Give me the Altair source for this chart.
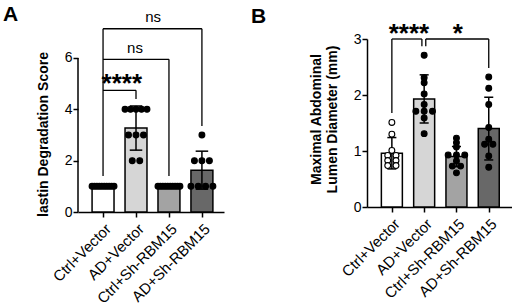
import altair as alt
import pandas as pd
from collections import Counter, defaultdict

groups = ["Ctrl+Vector", "AD+Vector", "Ctrl+Sh-RBM15", "AD+Sh-RBM15"]
bar_fills = ["#ffffff", "#d6d6d6", "#a3a3a3", "#686868"]

# Panel A: Elastin degradation score
a_ctrl_vec = [1, 1, 1, 1, 1, 1, 1, 1, 1, 1]
a_ad_vec = [4, 4, 4, 4, 4, 3, 3, 3, 2, 2]
a_ctrl_sh = [1, 1, 1, 1, 1, 1, 1, 1, 1, 1]
a_ad_sh = [3, 2, 2, 2, 1, 1, 1, 1]
a_mean = [1.0, 3.27, 1.0, 1.63]
a_sd = [0.0, 0.86, 0.0, 0.74]

# Panel B: maximal abdominal lumen diameter (mm)
b_ctrl_vec = [1.51, 1.30, 1.01, 0.92, 0.92, 0.83, 0.83, 0.74, 0.74]
b_ad_vec = [2.71, 2.31, 2.22, 2.02, 1.83, 1.71, 1.71, 1.71, 1.59, 1.31]
b_ctrl_sh = [1.23, 1.15, 1.07, 0.93, 0.93, 0.93, 0.82, 0.73, 0.73, 0.61]
b_ad_sh = [2.32, 2.12, 1.83, 1.42, 1.21, 1.12, 1.12, 0.91, 0.71]
b_mean = [0.96, 1.93, 0.90, 1.40]
b_sd = [0.28, 0.43, 0.18, 0.56]

# significance brackets: (x, x2, y, y2) in data units
a_brackets = [
    (0, 3, 7.14, 7.14), (3, 3, 7.14, 3.35),
    (0, 2, 5.95, 5.95), (2, 2, 5.95, 1.40),
    (0, 1, 4.74, 4.74), (1, 1, 4.74, 4.40),
    (0, 0, 7.14, 1.40),
]
a_ns = [("ns", 1.52, 7.42), ("ns", 0.97, 6.21)]
a_stars = [("****", 0.57, 4.66)]
b_brackets = [
    (0, 0, 3.0, 1.68), (0, 0.93, 3.0, 3.0), (0.93, 0.93, 3.0, 2.87),
    (1.05, 1.05, 3.0, 2.87), (1.05, 3, 3.0, 3.0), (3, 3, 3.0, 2.48),
]
b_ns = []
b_stars = [("****", 0.53, 2.955), ("*", 2.04, 2.955)]

FONT = "Liberation Sans"
XLAB = 15
YLAB = 14
TITLE = 14


def swarm(vals, gap, span, step):
    counts = Counter(vals)
    seen = defaultdict(int)
    out = []
    for v in vals:
        n = counts[v]
        k = seen[v]
        seen[v] += 1
        sp = min(gap, span / (n - 1)) if n > 1 else 0.0
        out.append((k - (n - 1) / 2) * sp / step)
    return out


def panel(point_lists, means, sds, open_idx, ydom, yticks, width, height,
          xdom, bar_hw, cap_hw, step, gap, span, brackets, ns, stars, letter,
          letter_xy, ytitle, title_xy, own_axis_top=None):
    bars = pd.DataFrame({
        "g": groups, "x0": [i - bar_hw for i in range(4)],
        "x1": [i + bar_hw for i in range(4)], "mean": means,
        "fill": bar_fills, "i": list(range(4)),
        "lo": [m - s for m, s in zip(means, sds)],
        "hi": [m + s for m, s in zip(means, sds)],
        "c0": [i - cap_hw for i in range(4)], "c1": [i + cap_hw for i in range(4)],
    })
    err = bars[[s > 0 for s in sds]]
    rows = []
    for i, vals in enumerate(point_lists):
        offs = swarm(vals, gap, span, step)
        for v, o in zip(vals, offs):
            rows.append({"px": i + o, "v": v,
                         "pf": "white" if i in open_idx else "black"})
    pts = pd.DataFrame(rows)
    br = pd.DataFrame(brackets, columns=["x", "x2", "y", "y2"])

    lab = "[" + ",".join("'" + g + "'" for g in groups) + "][datum.value]"
    xsc = alt.Scale(domain=xdom, nice=False, zero=False)
    ysc = alt.Scale(domain=ydom, nice=False, zero=True)
    xax = alt.Axis(values=[0, 1, 2, 3], labelExpr=lab, labelAngle=-45,
                   labelAlign="right", labelBaseline="top", labelFontSize=XLAB,
                   labelFont=FONT, labelColor="black", tickSize=5,
                   tickWidth=1.5, tickColor="black", domainColor="black",
                   domainWidth=1.5, grid=False, title=None, labelPadding=4,
                   labelOverlap=False)
    yax = alt.Axis(values=yticks, format="d", labelFontSize=YLAB, labelFont=FONT,
                   labelColor="black", tickSize=5, tickWidth=1.5,
                   tickColor="black", domainColor="black", domainWidth=1.5,
                   domain=own_axis_top is None, grid=False, labelPadding=1,
                   title=ytitle, titleFont=FONT, titleFontSize=TITLE,
                   titleFontWeight="bold", titleColor="black", titleAngle=270,
                   titleAlign="center", titleBaseline="middle",
                   titleX=title_xy[0], titleY=title_xy[1], titleLineHeight=15.5)

    base_bar = alt.Chart(bars).mark_bar(stroke="black", strokeWidth=1.5).encode(
        x=alt.X("x0:Q", scale=xsc, axis=xax), x2="x1:Q",
        y=alt.Y("mean:Q", scale=ysc, axis=yax), y2=alt.datum(0),
        fill=alt.Fill("fill:N", scale=None))
    layers = [base_bar]
    if own_axis_top is not None:
        layers.append(alt.Chart(bars.head(1)).mark_rule(
            color="black", strokeWidth=1.5).encode(
            x=alt.value(0), y=alt.datum(0), y2=alt.datum(own_axis_top)))
    if len(err):
        layers.append(alt.Chart(err).mark_rule(color="black", strokeWidth=1.5).encode(
            x="i:Q", y="lo:Q", y2="hi:Q"))
        layers.append(alt.Chart(err).mark_rule(color="black", strokeWidth=1.5).encode(
            x="c0:Q", x2="c1:Q", y="hi:Q"))
        layers.append(alt.Chart(err).mark_rule(color="black", strokeWidth=1.5).encode(
            x="c0:Q", x2="c1:Q", y="lo:Q"))
    layers.append(alt.Chart(pts).mark_point(
        filled=True, shape="circle", size=34, stroke="black", strokeWidth=1.1,
        opacity=1).encode(x="px:Q", y="v:Q", fill=alt.Fill("pf:N", scale=None)))
    layers.append(alt.Chart(br).mark_rule(color="black", strokeWidth=1.3).encode(
        x="x:Q", x2="x2:Q", y="y:Q", y2="y2:Q"))
    if ns:
        layers.append(alt.Chart(pd.DataFrame(ns, columns=["t", "x", "y"])).mark_text(
            font=FONT, fontSize=15, color="black", baseline="alphabetic").encode(
            x="x:Q", y="y:Q", text="t:N"))
    if stars:
        layers.append(alt.Chart(pd.DataFrame(stars, columns=["t", "x", "y"])).mark_text(
            font=FONT, fontSize=26, fontWeight="bold", color="black",
            baseline="alphabetic").encode(x="x:Q", y="y:Q", text="t:N"))
    layers.append(alt.Chart(pd.DataFrame({"t": [letter]})).mark_text(
        font=FONT, fontSize=21, fontWeight="bold", color="black",
        align="left", baseline="alphabetic").encode(
        x=alt.value(letter_xy[0]), y=alt.value(letter_xy[1]), text="t:N"))
    return alt.layer(*layers).properties(width=width, height=height)


pa = panel([a_ctrl_vec, a_ad_vec, a_ctrl_sh, a_ad_sh], a_mean, a_sd, [],
           [0, 6.74], [0, 2, 4, 6], 146, 173, [-0.76, 3.67], 0.333, 0.19,
           33.0, 7.5, 22, a_brackets, a_ns, a_stars, "A", (-75, -18),
           "lastin Degradation Score", (-35, 95), own_axis_top=6)
pb = panel([b_ctrl_vec, b_ad_vec, b_ctrl_sh, b_ad_sh], b_mean, b_sd, [0],
           [0, 3], [0, 1, 2, 3], 145, 168, [-0.77, 3.72], 0.325, 0.14,
           32.33, 8.3, 17, b_brackets, b_ns, b_stars, "B", (-116, -16),
           ["Maximal Abdominal", "Lumen Diameter (mm)"], (-50.5, 80))

chart = alt.hconcat(pa, pb, spacing=27).properties(
    padding={"left": 3, "top": 4, "right": 0, "bottom": 0},
    background="white").configure_view(stroke=None).configure_axis(
    labelFont=FONT, titleFont=FONT, titleFontSize=TITLE, titleFontWeight="bold",
    labelColor="black", titleColor="black").configure_axisY(
    labelFontSize=YLAB).configure_axisX(labelFontSize=XLAB)

chart.save("out.html", embed_options={"renderer": "svg", "actions": False})
